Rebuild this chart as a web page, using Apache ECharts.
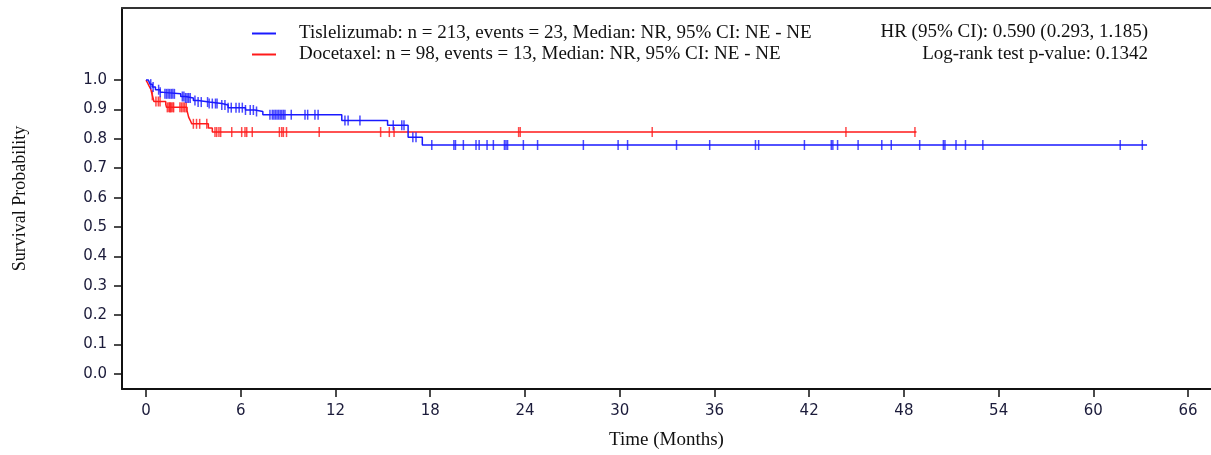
<!DOCTYPE html>
<html>
<head>
<meta charset="utf-8">
<script src="https://cdn.jsdelivr.net/npm/echarts@6.0.0/dist/echarts.min.js"></script>
<style>
    html, body { margin: 0; padding: 0; background: #fff; }
    #main { width: 1211px; height: 455px; }
</style>
</head>
<body>
<div id="main"></div>
<script>
// legend texts
var seriesNames = ['Tislelizumab: n = 213, events = 23, Median: NR, 95% CI: NE - NE',
                   'Docetaxel: n = 98, events = 13, Median: NR, 95% CI: NE - NE'];
var statTexts = ['HR (95% CI): 0.590 (0.293, 1.185)', 'Log-rank test p-value: 0.1342'];

// Tislelizumab KM steps (months, survival)
var blueTime = [0, 0.15, 0.25, 0.4, 0.6, 0.9, 1.1, 2.2, 2.5, 3.0, 3.3, 4.0, 4.8, 5.2, 6.3, 6.9, 7.4, 12.4, 15.3, 16.6, 17.5, 63.4];
var blueSurv = [1.0, 0.995, 0.986, 0.976, 0.967, 0.958, 0.953, 0.944, 0.939, 0.930, 0.925, 0.920, 0.915, 0.906, 0.898, 0.893, 0.882, 0.862, 0.846, 0.805, 0.779, 0.779];
var blueCensor = [0.3, 0.45, 0.8, 0.9, 1.2, 1.3, 1.4, 1.5, 1.6, 1.7, 1.8, 2.3, 2.4, 2.5, 2.6, 2.7, 2.8, 3.1, 3.3, 3.5,
    3.9, 4.0, 4.2, 4.4, 4.5, 4.8, 5.0, 5.2, 5.4, 5.7, 5.9, 6.1, 6.3, 6.6, 6.8, 7.0, 7.85, 8.0, 8.1, 8.2, 8.3, 8.4,
    8.5, 8.6, 8.7, 8.8, 9.2, 10.07, 10.24, 10.7, 10.9, 12.6, 12.8, 13.55, 15.66, 16.2, 16.34, 16.9, 17.1, 18.1,
    19.5, 19.6, 20.1, 20.9, 21.1, 21.6, 22.0, 22.7, 22.8, 22.9, 23.9, 24.8, 27.7, 29.9, 30.5, 33.6, 35.7, 38.6,
    38.8, 41.7, 43.4, 43.5, 43.8, 45.1, 46.6, 47.2, 49.0, 50.5, 50.6, 51.3, 51.9, 53.0, 61.7, 63.1];

// Docetaxel KM steps
var redTime = [0, 0.1, 0.2, 0.3, 0.4, 0.45, 0.5, 1.25, 1.3, 2.6, 2.65, 2.7, 2.8, 2.9, 3.95, 4.2, 48.8];
var redSurv = [1.0, 0.99, 0.979, 0.969, 0.948, 0.938, 0.927, 0.917, 0.907, 0.896, 0.885, 0.874, 0.863, 0.851, 0.837, 0.823, 0.823];
var redCensor = [0.4, 0.63, 0.78, 0.89, 1.35, 1.45, 1.5, 1.55, 1.6, 1.7, 1.75, 2.15, 2.25, 2.35, 2.45, 2.55, 3.0, 3.2,
    3.4, 3.85, 4.37, 4.48, 4.62, 4.73, 5.43, 6.06, 6.27, 6.38, 6.73, 8.45, 8.6, 8.7, 8.9, 10.97, 14.86, 15.41,
    15.71, 23.6, 23.7, 32.06, 44.33, 48.7];

var xTicks = [0, 6, 12, 18, 24, 30, 36, 42, 48, 54, 60, 66];
var yTicks = [0, 0.1, 0.2, 0.3, 0.4, 0.5, 0.6, 0.7, 0.8, 0.9, 1.0];

var blue = '#1a1aff';
var red = '#ff1a1a';
var serif = '"Liberation Serif", "Times New Roman", serif';
var sans = '"DejaVu Sans", sans-serif';

function pairs(time, surv) {
    var out = [];
    for (var i = 0; i < time.length; i++) {
        out.push([time[i], surv[i]]);
    }
    return out;
}

// survival value at time t (step function)
function survAt(time, surv, t) {
    var s = surv[0];
    for (var i = 0; i < time.length; i++) {
        if (time[i] <= t) s = surv[i];
    }
    return s;
}

function censorPoints(time, surv, cens) {
    var out = [];
    for (var i = 0; i < cens.length; i++) {
        out.push([cens[i], survAt(time, surv, cens[i])]);
    }
    return out;
}

var chart = echarts.init(document.getElementById('main'));

var option = {
    animation: false,
    backgroundColor: '#fff',
    grid: { left: 122, right: 0, top: 8, bottom: 66 },
    legend: {
        orient: 'vertical',
        left: 252,
        top: 24,
        padding: 0,
        itemWidth: 24,
        itemHeight: 2,
        itemGap: 2,
        icon: 'rect',
        selectedMode: false,
        data: seriesNames,
        textStyle: { fontFamily: serif, fontSize: 19, color: '#111', padding: [0, 0, 0, 18] }
    },
    graphic: [
        { type: 'text', right: 63, top: 23, style: { text: statTexts[0], font: '19px ' + serif, fill: '#111' } },
        { type: 'text', right: 63, top: 45, style: { text: statTexts[1], font: '19px ' + serif, fill: '#111' } }
    ],
    xAxis: [{
        type: 'value',
        min: -1.52,
        max: 67.45,
        name: 'Time (Months)',
        nameLocation: 'middle',
        nameGap: 42,
        nameTextStyle: { fontFamily: serif, fontSize: 19, color: '#111' },
        axisLine: { onZero: false, lineStyle: { color: '#111', width: 2 } },
        axisTick: { show: true, length: 8, lineStyle: { color: '#111', width: 1.5 }, customValues: xTicks },
        axisLabel: { customValues: xTicks, margin: 15, fontFamily: sans, fontSize: 15, color: '#1b1b3a' },
        splitLine: { show: false }
    }, {
        type: 'value',
        position: 'top',
        min: -1.52,
        max: 67.45,
        axisLine: { show: true, onZero: false, lineStyle: { color: '#333', width: 2 } },
        axisTick: { show: false },
        axisLabel: { show: false },
        splitLine: { show: false }
    }],
    yAxis: {
        type: 'value',
        min: -0.051,
        max: 1.245,
        name: 'Survival Probability',
        nameLocation: 'middle',
        nameGap: 93,
        nameTextStyle: { fontFamily: serif, fontSize: 18, color: '#111' },
        axisLine: { show: true, onZero: false, lineStyle: { color: '#111', width: 2 } },
        axisTick: { show: true, length: 8, lineStyle: { color: '#111', width: 1.5 }, customValues: yTicks },
        axisLabel: {
            customValues: yTicks, margin: 15, fontFamily: sans, fontSize: 15, color: '#1b1b3a',
            formatter: function (v) { return v.toFixed(1); }
        },
        splitLine: { show: false }
    },
    series: [
        {
            name: seriesNames[0],
            type: 'line',
            step: 'end',
            showSymbol: false,
            symbol: 'none',
            color: blue,
            lineStyle: { color: blue, width: 1.5 },
            data: pairs(blueTime, blueSurv),
            z: 3
        },
        {
            name: seriesNames[1],
            type: 'line',
            step: 'end',
            showSymbol: false,
            symbol: 'none',
            color: red,
            lineStyle: { color: red, width: 1.5 },
            data: pairs(redTime, redSurv),
            z: 2
        },
        {
            name: 'blueCensor',
            type: 'scatter',
            symbol: 'rect',
            symbolSize: [1.5, 10],
            itemStyle: { color: blue },
            data: censorPoints(blueTime, blueSurv, blueCensor),
            z: 3
        },
        {
            name: 'redCensor',
            type: 'scatter',
            symbol: 'rect',
            symbolSize: [1.5, 10],
            itemStyle: { color: red },
            data: censorPoints(redTime, redSurv, redCensor),
            z: 2
        }
    ]
};

chart.setOption(option);
</script>
</body>
</html>
